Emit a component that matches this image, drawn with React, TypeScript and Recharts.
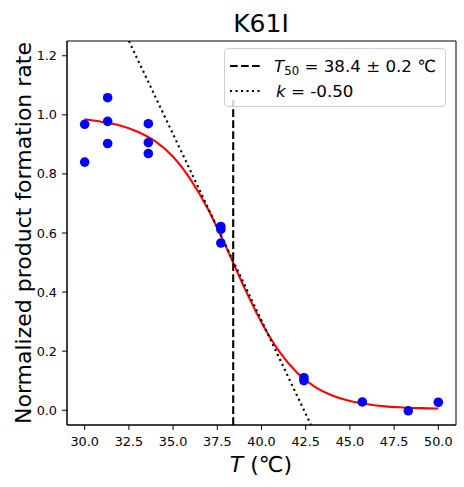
import { ComposedChart, Line, Scatter, XAxis, YAxis, ReferenceArea } from 'recharts';

// measured points
const tempC = [30.0, 30.0, 31.3, 31.3, 31.3, 33.6, 33.6, 33.6, 37.7, 37.7, 37.7, 42.4, 42.4, 45.7, 48.3, 50.0];
const rate = [0.968, 0.84, 1.058, 0.978, 0.903, 0.97, 0.906, 0.869, 0.622, 0.612, 0.566, 0.11, 0.1, 0.028, -0.002, 0.027];

// fitted sigmoid, every 1 degree
const fitTemp = [30, 31, 32, 33, 34, 35, 36, 37, 38, 39, 40, 41, 42, 43, 44, 45, 46, 47, 48, 49, 50];
const fitRate = [0.985, 0.976, 0.964, 0.943, 0.91, 0.858, 0.78, 0.678, 0.552, 0.419, 0.297, 0.199, 0.128, 0.08, 0.05, 0.031, 0.02, 0.013, 0.0095, 0.007, 0.006];

// T50 marker and slope at T50
const t50Temp = [38.4, 38.4];
const t50Rate = [-0.05, 1.05];
const slopeTemp = [32.5, 42.8];
const slopeRate = [1.25, -0.05];

const xTicks = [30, 32.5, 35, 37.5, 40, 42.5, 45, 47.5, 50];
const yTicks = [0, 0.2, 0.4, 0.6, 0.8, 1.0, 1.2];

const FONT = 'DejaVu Sans';

const zip = (xs: number[], ys: number[]) => xs.map((x, i) => ({ x, y: ys[i] }));

const Dot = (props: any) => <circle cx={props.cx} cy={props.cy} r={4.8} fill="#0000ff" />;

export default function App() {
  const tick = { fill: '#000', fontSize: 12.8, fontFamily: FONT };
  return (
    <div style={{ position: 'relative', width: 464, height: 487, fontFamily: FONT }}>
      <style>{'body{margin:0}'}</style>
      <ComposedChart width={464} height={487} margin={{ top: 41, right: 8, left: 0, bottom: 0 }}>
        <XAxis
          type="number"
          dataKey="x"
          domain={[29, 51]}
          ticks={xTicks}
          tickFormatter={(v: number) => v.toFixed(1)}
          tickSize={5}
          tickMargin={7}
          height={62}
          stroke="#000"
          tick={tick}
          allowDataOverflow
        />
        <YAxis
          type="number"
          dataKey="y"
          domain={[-0.05, 1.25]}
          ticks={yTicks}
          tickFormatter={(v: number) => v.toFixed(1)}
          tickSize={5}
          tickMargin={5}
          width={67}
          stroke="#000"
          tick={tick}
          allowDataOverflow
        />
        <ReferenceArea x1={29} x2={51} y1={-0.05} y2={1.25} fill="none" stroke="#000" strokeWidth={1} ifOverflow="visible" />
        <Scatter data={zip(tempC, rate)} shape={<Dot />} isAnimationActive={false} />
        <Line data={zip(fitTemp, fitRate)} dataKey="y" type="monotone" stroke="#ff0000" strokeWidth={2.1} dot={false} isAnimationActive={false} />
        <Line data={zip(slopeTemp, slopeRate)} dataKey="y" type="linear" stroke="#000" strokeWidth={2.1} strokeDasharray="2.1 3.4" dot={false} isAnimationActive={false} />
        <Line data={zip(t50Temp, t50Rate)} dataKey="y" type="linear" stroke="#000" strokeWidth={2.1} strokeDasharray="7.7 3.3" dot={false} isAnimationActive={false} />
      </ComposedChart>

      <svg width={464} height={487} style={{ position: 'absolute', left: 0, top: 0, pointerEvents: 'none' }}>
        <text x={261} y={32} textAnchor="middle" fontSize={25} fontFamily={FONT} fill="#000">K61I</text>
        <text x={261} y={472} textAnchor="middle" fontSize={22} fontFamily={FONT} fill="#000">
          <tspan fontStyle="italic">T</tspan> (℃)
        </text>
        <text x={31} y={233} transform="rotate(-90 31 233)" textAnchor="middle" fontSize={22} fontFamily={FONT} fill="#000">
          Normalized product formation rate
        </text>
      </svg>

      <div
        style={{
          position: 'absolute',
          left: 224,
          top: 48,
          width: 222,
          height: 59,
          boxSizing: 'border-box',
          border: '1px solid #d0d0d0',
          borderRadius: 4,
          background: 'rgba(255,255,255,0.8)',
          fontSize: 16.7,
          color: '#000',
        }}
      >
        <svg width={222} height={59} style={{ position: 'absolute', left: -1, top: -1 }}>
          <line x1={6} x2={38} y1={18} y2={18} stroke="#000" strokeWidth={2.1} strokeDasharray="7.7 3.3" />
          <line x1={6} x2={38} y1={43} y2={43} stroke="#000" strokeWidth={2.1} strokeDasharray="2.1 3.4" />
          <text x={50} y={24} fontSize={16.7} fontFamily={FONT} fill="#000">
            <tspan fontStyle="italic">T</tspan>
            <tspan fontSize={11.7} dy={3}>50</tspan>
            <tspan dy={-3}> = 38.4 ± 0.2 ℃</tspan>
          </text>
          <text x={52} y={49} fontSize={16.7} fontFamily={FONT} fill="#000">
            <tspan fontStyle="italic">k</tspan> = -0.50
          </text>
        </svg>
      </div>
    </div>
  );
}
